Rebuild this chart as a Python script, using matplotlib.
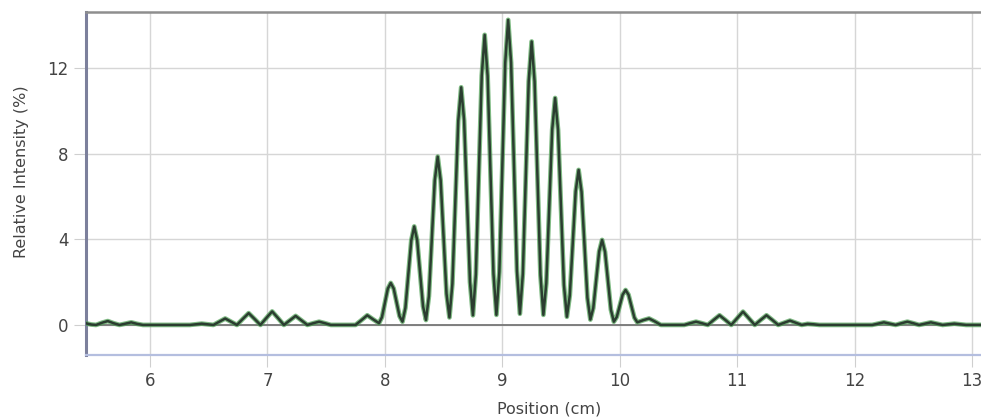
import numpy as np
import matplotlib
matplotlib.use("Agg")
import matplotlib.pyplot as plt

#==============================================
#----- intensity profile -----
#==============================================
# left side lobes (coarse steps)
pos_left = [5.45, 5.50, 5.54, 5.59, 5.64, 5.69, 5.74, 5.79, 5.84, 5.89, 5.94,
            6.05, 6.20, 6.34, 6.39, 6.44, 6.49, 6.54, 6.59, 6.64, 6.69, 6.74,
            6.79, 6.84, 6.89, 6.94, 6.99, 7.04, 7.09, 7.14, 7.19, 7.24, 7.29,
            7.34, 7.39, 7.44, 7.49, 7.54, 7.65, 7.75, 7.80, 7.85, 7.90]
int_left = [0.08, 0.02, 0.0, 0.10, 0.18, 0.08, 0.0, 0.06, 0.12, 0.05, 0.0,
            0.0, 0.0, 0.0, 0.03, 0.06, 0.03, 0.0, 0.15, 0.30, 0.15, 0.0,
            0.28, 0.55, 0.28, 0.0, 0.32, 0.63, 0.32, 0.0, 0.21, 0.42, 0.21,
            0.0, 0.08, 0.15, 0.08, 0.0, 0.0, 0.0, 0.22, 0.45, 0.26]

# central fringes (fine steps)
pos_mid = [7.95, 7.975, 8.00, 8.025, 8.05, 8.075, 8.10, 8.125,
           8.15, 8.175, 8.20, 8.225, 8.25, 8.275, 8.30, 8.325,
           8.35, 8.375, 8.40, 8.425, 8.45, 8.475, 8.50, 8.525,
           8.55, 8.575, 8.60, 8.625, 8.65, 8.675, 8.70, 8.725,
           8.75, 8.775, 8.80, 8.825, 8.85, 8.875, 8.90, 8.925,
           8.95, 8.975, 9.00, 9.025, 9.05, 9.075, 9.10, 9.125,
           9.15, 9.175, 9.20, 9.225, 9.25, 9.275, 9.30, 9.325,
           9.35, 9.375, 9.40, 9.425, 9.45, 9.475, 9.50, 9.525,
           9.55, 9.575, 9.60, 9.625, 9.65, 9.675, 9.70, 9.725,
           9.75, 9.775, 9.80, 9.825, 9.85, 9.875, 9.90, 9.925,
           9.95, 9.975, 10.00, 10.025, 10.05, 10.075, 10.10, 10.125,
           10.15]
int_mid = [0.08, 0.36, 1.02, 1.69, 1.96, 1.70, 1.06, 0.41,
           0.15, 0.80, 2.38, 3.95, 4.60, 3.96, 2.42, 0.87,
           0.23, 1.34, 4.05, 6.75, 7.86, 6.76, 4.11, 1.45,
           0.35, 1.92, 5.73, 9.53, 11.10, 9.55, 5.78, 2.00,
           0.45, 2.36, 7.00, 11.64, 13.55, 11.64, 7.01, 2.38,
           0.47, 2.48, 7.36, 12.24, 14.25, 12.25, 7.39, 2.52,
           0.52, 2.38, 6.88, 11.38, 13.24, 11.38, 6.86, 2.33,
           0.47, 1.95, 5.54, 9.12, 10.60, 9.11, 5.49, 1.87,
           0.38, 1.38, 3.81, 6.24, 7.24, 6.22, 3.75, 1.27,
           0.25, 0.79, 2.11, 3.43, 3.97, 3.41, 2.06, 0.71,
           0.15, 0.37, 0.89, 1.41, 1.63, 1.41, 0.88, 0.34,
           0.12]

# right side lobes
pos_right = [10.20, 10.25, 10.30, 10.35, 10.45, 10.55, 10.60, 10.65, 10.70,
             10.75, 10.80, 10.85, 10.90, 10.95, 11.00, 11.05, 11.10, 11.15,
             11.20, 11.25, 11.30, 11.35, 11.40, 11.45, 11.50, 11.55, 11.60,
             11.65, 11.70, 11.85, 12.00, 12.15, 12.20, 12.25, 12.30, 12.35,
             12.40, 12.45, 12.50, 12.55, 12.60, 12.65, 12.70, 12.75, 12.80,
             12.85, 12.90, 12.95, 13.10]
int_right = [0.22, 0.30, 0.16, 0.0, 0.0, 0.0, 0.08, 0.15, 0.08,
             0.0, 0.23, 0.45, 0.23, 0.0, 0.31, 0.62, 0.31, 0.0,
             0.23, 0.45, 0.23, 0.0, 0.10, 0.20, 0.10, 0.0, 0.05,
             0.03, 0.0, 0.0, 0.0, 0.0, 0.06, 0.12, 0.06, 0.0,
             0.08, 0.15, 0.08, 0.0, 0.06, 0.12, 0.06, 0.0, 0.03,
             0.06, 0.03, 0.0, 0.0]

x_ticks = [6, 7, 8, 9, 10, 11, 12, 13]
y_ticks = [0, 4, 8, 12]

position = np.array(pos_left + pos_mid + pos_right)
intensity = np.array(int_left + int_mid + int_right)

fig = plt.figure(figsize=(9.81, 4.19), dpi=100)
ax = fig.add_axes([0.0877, 0.153, 0.9123, 0.818])

ax.axhline(0, color='#767676', linewidth=1.3, zorder=2)

# green halo + dark core, like the original trace
ax.plot(position, intensity, color='#4a9e50', linewidth=3.4, alpha=0.7,
        solid_joinstyle='round', zorder=3)
ax.plot(position, intensity, color='#2b3d30', linewidth=1.8,
        solid_joinstyle='round', zorder=4)

ax.set_xlim(5.455, 13.077)
ax.set_ylim(-1.40, 14.61)
ax.set_xticks(x_ticks)
ax.set_yticks(y_ticks)
ax.grid(True, color='#d6d6d6', linewidth=1.0)
ax.set_axisbelow(True)

ax.tick_params(axis='both', length=8.5, width=0.8, color='#cfcfcf',
               labelcolor='#444444', labelsize=12, pad=4)

ax.spines['left'].set_color('#7c809c')
ax.spines['left'].set_linewidth(2.2)
ax.spines['bottom'].set_color('#b4bedf')
ax.spines['bottom'].set_linewidth(1.6)
ax.spines['top'].set_color('#8e8e8e')
ax.spines['top'].set_linewidth(1.8)
ax.spines['right'].set_visible(False)

ax.set_xlabel("Position (cm)", fontsize=11.5, color='#444444')
ax.set_ylabel("Relative Intensity (%)", fontsize=11.5, color='#444444')
ax.xaxis.set_label_coords(0.517, -0.135)
ax.yaxis.set_label_coords(-0.064, 0.535)

fig.savefig('out.png', dpi=100)
